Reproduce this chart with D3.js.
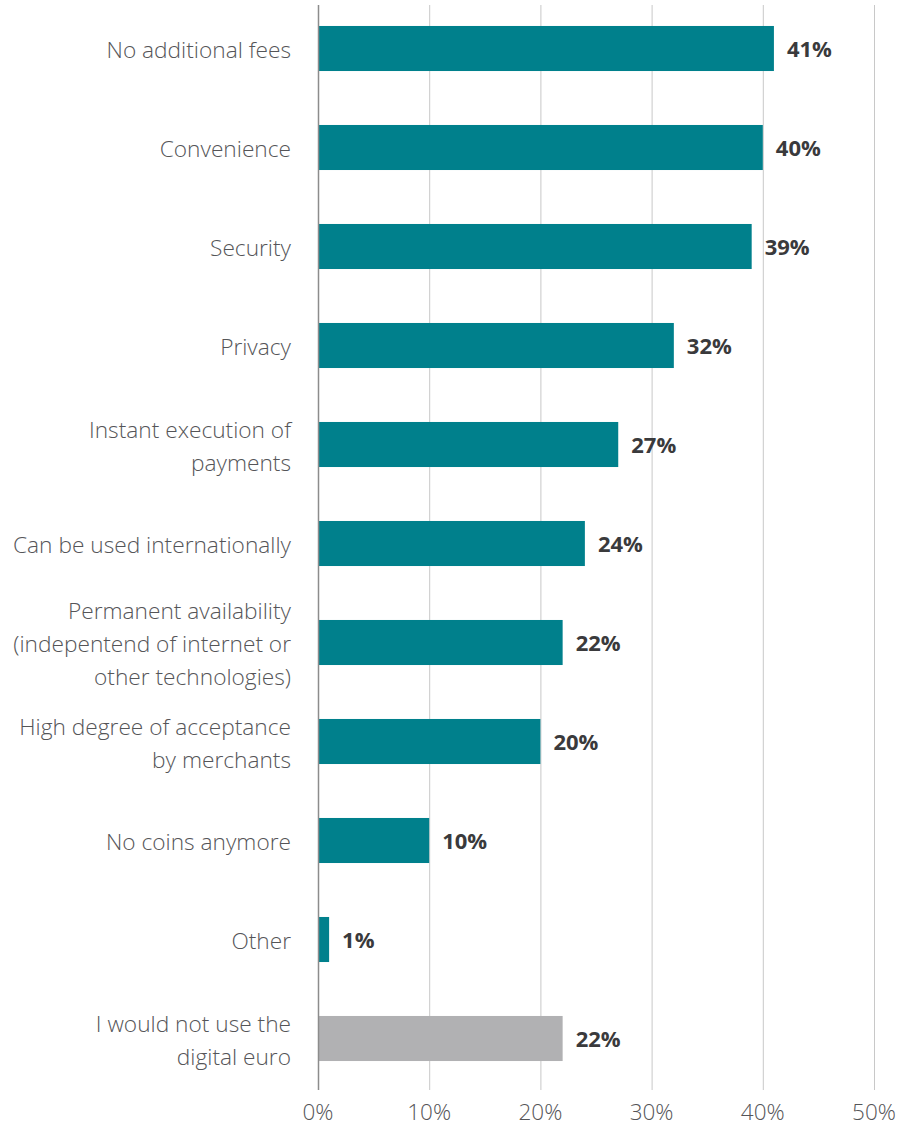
<!DOCTYPE html>
<html>
<head>
<meta charset="utf-8">
<style>
  body { margin: 0; background: #fff; }
  svg { display: block; font-family: "Open Sans", sans-serif; }
</style>
</head>
<body>
<svg width="911" height="1126"></svg>
<script src="https://d3js.org/d3.v7.min.js"></script>
<script>
var categories = [
  ["No additional fees"],
  ["Convenience"],
  ["Security"],
  ["Privacy"],
  ["Instant execution of", "payments"],
  ["Can be used internationally"],
  ["Permanent availability", "(indepentend of internet or", "other technologies)"],
  ["High degree of acceptance", "by merchants"],
  ["No coins anymore"],
  ["Other"],
  ["I would not use the", "digital euro"]
];
var values = [41, 40, 39, 32, 27, 24, 22, 20, 10, 1, 22];
var tickValues = [0, 10, 20, 30, 40, 50];

var svg = d3.select("svg");
var data = categories.map(function(c, i) { return { lines: c, value: values[i], i: i }; });

var x = d3.scaleLinear().domain([0, 50]).range([318, 874]);
var y = d3.scaleBand()
    .domain(d3.range(data.length))
    .range([-1, 1088])
    .paddingInner(0.545)
    .paddingOuter(0.2725);

// gridlines
svg.append("g")
  .selectAll("line")
  .data(tickValues.slice(1))
  .enter().append("line")
    .attr("x1", function(d) { return x(d) + 0.5; })
    .attr("x2", function(d) { return x(d) + 0.5; })
    .attr("y1", 5)
    .attr("y2", 1090)
    .attr("stroke", "#c8c8c8")
    .attr("stroke-width", 1);

// bars
svg.append("g")
  .selectAll("rect")
  .data(data)
  .enter().append("rect")
    .attr("x", x(0))
    .attr("y", function(d) { return y(d.i); })
    .attr("width", function(d) { return x(d.value) - x(0); })
    .attr("height", y.bandwidth())
    .attr("fill", function(d) { return d.i === data.length - 1 ? "#b1b1b3" : "#00808c"; });

// axis line
svg.append("line")
  .attr("x1", x(0) + 0.5).attr("x2", x(0) + 0.5)
  .attr("y1", 5).attr("y2", 1090)
  .attr("stroke", "#8c8c8c")
  .attr("stroke-width", 1.5);

// value labels
svg.append("g")
  .selectAll("text")
  .data(data)
  .enter().append("text")
    .attr("x", function(d) { return x(d.value) + 13; })
    .attr("y", function(d) { return y(d.i) + y.bandwidth() / 2; })
    .attr("dy", "0.38em")
    .attr("font-size", 22)
    .attr("font-weight", "bold")
    .attr("fill", "#3a3a3c")
    .text(function(d) { return d.value + "%"; });

// category labels
var lineH = 33;
var labels = svg.append("g")
  .selectAll("text")
  .data(data)
  .enter().append("text")
    .attr("text-anchor", "end")
    .attr("font-size", 22.7)
    .attr("font-weight", 300)
    .attr("fill", "#555558")
    .attr("y", function(d) {
      var c = y(d.i) + y.bandwidth() / 2 + 1;
      return c - (d.lines.length - 1) * lineH / 2;
    });

labels.selectAll("tspan")
  .data(function(d) { return d.lines; })
  .enter().append("tspan")
    .attr("x", 291)
    .attr("dy", function(l, j) { return j === 0 ? "0.38em" : lineH; })
    .text(function(l) { return l; });

// x tick labels
svg.append("g")
  .selectAll("text")
  .data(tickValues)
  .enter().append("text")
    .attr("x", function(d) { return x(d); })
    .attr("y", 1120)
    .attr("text-anchor", "middle")
    .attr("font-size", 22.5)
    .attr("font-weight", 300)
    .attr("fill", "#555558")
    .text(function(d) { return d + "%"; });
</script>
</body>
</html>
